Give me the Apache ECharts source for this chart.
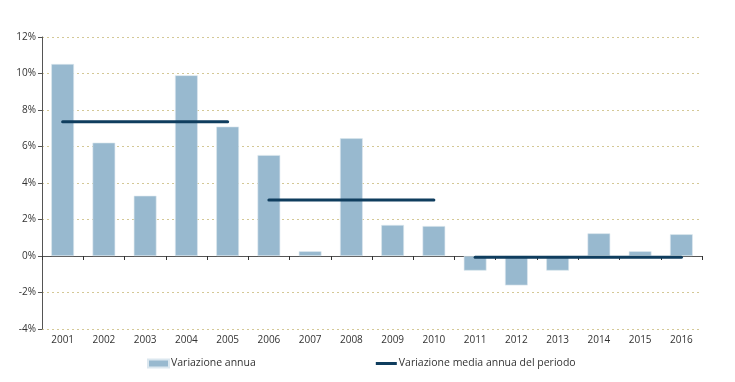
<!DOCTYPE html>
<html><head><meta charset="utf-8">
<script src="https://cdn.jsdelivr.net/npm/echarts@6/dist/echarts.min.js"></script>
<style>html,body{margin:0;padding:0;background:#fff}#c{width:735px;height:382px}</style>
</head><body><div id="c"></div>
<script>
const years = ['2001','2002','2003','2004','2005','2006','2007','2008','2009','2010','2011','2012','2013','2014','2015','2016'];
const annualChange = [10.52, 6.21, 3.30, 9.90, 7.09, 5.53, 0.26, 6.45, 1.70, 1.64, -0.80, -1.61, -0.80, 1.24, 0.26, 1.19];
const periodMean1 = [7.36, null, null, null, 7.36, null, null, null, null, null, null, null, null, null, null, null];
const periodMean2 = [null, null, null, null, null, 3.07, null, null, null, 3.07, null, null, null, null, null, null];
const periodMean3 = [null, null, null, null, null, null, null, null, null, null, -0.07, null, null, null, null, -0.07];
const yTicks = [-4, -2, 0, 2, 4, 6, 8, 10, 12];

const font = 'Open Sans';
const lineColor = '#0f3d5e';
const barColor = '#98b9cf';
const lineSeries = (data, name) => ({
  name: name, type: 'line', data: data, connectNulls: true, symbol: 'none',
  lineStyle: {width: 3, color: lineColor, cap: 'round'}, itemStyle: {color: lineColor}, z: 5
});
const chart = echarts.init(document.getElementById('c'));
chart.setOption({
  animation: false,
  textStyle: {fontFamily: font},
  grid: {left: 42, right: 33, top: 37, bottom: 53},
  legend: {
    bottom: 8, left: 142, itemGap: 120, itemWidth: 21, itemHeight: 8,
    textStyle: {fontSize: 10.5, color: '#333', fontFamily: font, padding: [0, 0, 0, -3]},
    data: [{name: 'Variazione annua', icon: 'rect'}, {name: 'Variazione media annua del periodo', icon: 'path://M0,0 L21,0 L21,3 L0,3 Z', itemStyle: {color: lineColor}}]
  },
  xAxis: [{
    type: 'category', data: years, boundaryGap: true,
    axisLine: {onZero: true, lineStyle: {color: '#555', width: 1}},
    axisTick: {show: true, length: 4, lineStyle: {color: '#333'}},
    axisLabel: {show: false}
  }, {
    type: 'category', data: years, position: 'bottom', boundaryGap: true,
    axisLine: {show: false, onZero: false}, axisTick: {show: false},
    axisLabel: {fontSize: 10, color: '#333', margin: 6, fontFamily: font}
  }],
  yAxis: {
    type: 'value', min: -4, max: 12, interval: 2,
    axisLine: {show: true, lineStyle: {color: '#555'}},
    axisTick: {show: true, length: 4, lineStyle: {color: '#555'}},
    axisLabel: {fontSize: 10, color: '#333', margin: 6, formatter: v => yTicks.includes(v) ? v + '%' : ''},
    splitLine: {show: true, lineStyle: {color: '#d4c896', type: [2, 3], width: 1}}
  },
  series: [
    {name: 'Variazione annua', type: 'bar', data: annualChange, barWidth: '55%',
     itemStyle: {color: barColor, borderColor: '#dbe7ef', borderWidth: 0.6}},
    lineSeries(periodMean1, 'Variazione media annua del periodo'),
    lineSeries(periodMean2, 'Variazione media annua del periodo'),
    lineSeries(periodMean3, 'Variazione media annua del periodo')
  ]
});
</script></body></html>
